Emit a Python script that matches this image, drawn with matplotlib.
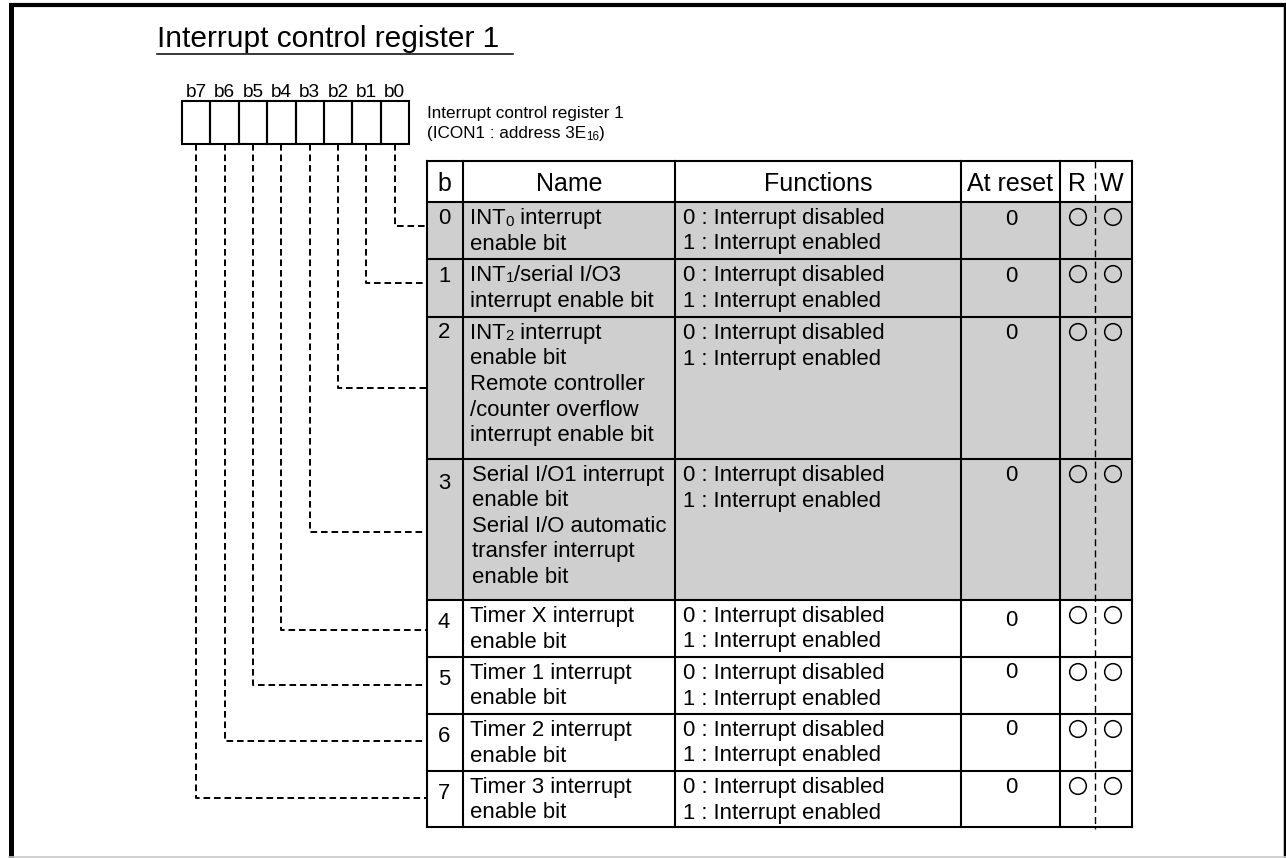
"""Register diagram: Interrupt control register 1 (ICON1)."""
import re

import matplotlib
matplotlib.use("Agg")
from matplotlib import pyplot as plt
from matplotlib.patches import Rectangle

plt.rcParams["font.family"] = ["Liberation Sans", "DejaVu Sans"]

TITLE = "Interrupt control register 1"
REG_NAME = "Interrupt control register 1"
REG_ADDR = "(ICON1 : address 3E_{16})"
BIT_LABELS = ["b7", "b6", "b5", "b4", "b3", "b2", "b1", "b0"]
HEADERS = ["b", "Name", "Functions", "At reset", "R", "W"]

bit_numbers = ["0", "1", "2", "3", "4", "5", "6", "7"]
bit_names = [
    ["INT_{0} interrupt", "enable bit"],
    ["INT_{1}/serial I/O3", "interrupt enable bit"],
    ["INT_{2} interrupt", "enable bit", "Remote controller",
     "/counter overflow", "interrupt enable bit"],
    ["Serial I/O1 interrupt", "enable bit", "Serial I/O automatic",
     "transfer interrupt", "enable bit"],
    ["Timer X interrupt", "enable bit"],
    ["Timer 1 interrupt", "enable bit"],
    ["Timer 2 interrupt", "enable bit"],
    ["Timer 3 interrupt", "enable bit"],
]
bit_functions = [["0 : Interrupt disabled", "1 : Interrupt enabled"]] * 8
reset_values = ["0"] * 8
readable = [True] * 8
writable = [True] * 8
shaded = [True, True, True, True, False, False, False, False]

# layout (pixel coordinates)
COL_X = [427, 463, 675, 961, 1060, 1132]
ROW_Y = [161, 202, 259, 317, 459, 600, 657, 714, 771, 827]
RW_SPLIT = 1095
BOX_LEFT, BOX_RIGHT, BOX_TOP, BOX_BOTTOM = 182, 409, 101, 144
LINK_Y = [226, 283, 388, 532, 630, 685, 741, 798]
NUM_OFFSET = [22, 23, 21, 30, 28, 28, 28, 28]
RESET_OFFSET = [23, 23, 22, 22, 26, 21, 21, 22]
LINE_STEP = 25.5

BODY = 15.9
HEAD = 18


def sub_text(ax, renderer, x, y, s, size):
    """Draw text where _{..} parts are small digits sitting on the baseline."""
    parts = re.split(r"_\{(.*?)\}", s)
    for k, part in enumerate(parts):
        if not part:
            continue
        small = k % 2 == 1
        t = ax.text(x, y + (1.5 if small else 0), part,
                    fontsize=size * (0.68 if small else 1.0), va="baseline")
        bb = t.get_window_extent(renderer=renderer)
        x += bb.width


def draw_frame(ax):
    ax.plot([11, 11], [3, 858], color="black", lw=3.6, solid_capstyle="butt")
    ax.plot([9, 1286], [5, 5], color="black", lw=3.0, solid_capstyle="butt")
    ax.plot([1284.5, 1284.5], [3, 858], color="black", lw=2.5,
            solid_capstyle="butt")
    ax.plot([9, 1286], [856.5, 856.5], color="#c8c8c8", lw=1.2)


def draw_register(ax, renderer):
    ax.text(157, 47, TITLE, fontsize=21.5, va="baseline", ha="left")
    ax.plot([157, 513], [54, 54], color="black", lw=1.1)
    width = (BOX_RIGHT - BOX_LEFT) / 8
    for i, label in enumerate(BIT_LABELS):
        x0 = BOX_LEFT + i * width
        ax.add_patch(Rectangle((x0, BOX_TOP), width, BOX_BOTTOM - BOX_TOP,
                               fill=False, lw=1.5, edgecolor="black"))
        ax.text(x0 + width / 2, 97, label, fontsize=13.7, ha="center",
                va="baseline")
    ax.text(427, 118, REG_NAME, fontsize=12.3, va="baseline")
    sub_text(ax, renderer, 427, 138, REG_ADDR, 12.3)

    dash = (0, (3.4, 2.0))
    for bit in range(8):
        x = BOX_RIGHT - (bit + 0.5) * width
        y = LINK_Y[bit]
        ax.plot([x, x, COL_X[0]], [BOX_BOTTOM, y, y], color="black",
                lw=1.4, linestyle=dash, dash_capstyle="butt")


def draw_table(ax, renderer):
    for i in range(8):
        top, bottom = ROW_Y[i + 1], ROW_Y[i + 2]
        if shaded[i]:
            ax.add_patch(Rectangle((COL_X[0], top), COL_X[-1] - COL_X[0],
                                   bottom - top, facecolor="#cfcfcf",
                                   edgecolor="none", zorder=0))
    for y in ROW_Y:
        ax.plot([COL_X[0], COL_X[-1]], [y, y], color="black", lw=1.5,
                solid_capstyle="projecting")
    for x in COL_X:
        ax.plot([x, x], [ROW_Y[0], ROW_Y[-1]], color="black", lw=1.5,
                solid_capstyle="projecting")
    ax.plot([RW_SPLIT, RW_SPLIT], [ROW_Y[0], ROW_Y[-1] + 2], color="black",
            lw=1.0, linestyle=(0, (5, 3)))

    head_x = [444, 569, 818, 1010, 1077, 1112]
    for x, h in zip(head_x, HEADERS):
        ax.text(x, 191, h, fontsize=HEAD, ha="center", va="baseline")

    r_x, w_x = 1078, 1113
    for i in range(8):
        top = ROW_Y[i + 1]
        ax.text(444, top + NUM_OFFSET[i], bit_numbers[i], fontsize=BODY,
                ha="center", va="baseline")
        name_x = 472 if i == 3 else 470
        for k, line in enumerate(bit_names[i]):
            sub_text(ax, renderer, name_x, top + 22 + k * LINE_STEP, line,
                     BODY)
        for k, line in enumerate(bit_functions[i]):
            ax.text(683, top + 22 + k * LINE_STEP, line, fontsize=BODY,
                    va="baseline")
        ax.text(1011, top + RESET_OFFSET[i], reset_values[i], fontsize=BODY,
                ha="center", va="baseline")
        cy = top + 15
        if readable[i]:
            ax.scatter([r_x], [cy], s=12.0 ** 2, facecolors="none",
                       edgecolors="black", linewidths=1.1, zorder=3)
        if writable[i]:
            ax.scatter([w_x], [cy], s=12.0 ** 2, facecolors="none",
                       edgecolors="black", linewidths=1.1, zorder=3)


fig = plt.figure(figsize=(12.86, 8.58), dpi=100)
ax = fig.add_axes([0, 0, 1, 1])
ax.set_xlim(0, 1286)
ax.set_ylim(858, 0)
ax.axis("off")
renderer = fig.canvas.get_renderer()

draw_frame(ax)
draw_register(ax, renderer)
draw_table(ax, renderer)

fig.savefig("out.png", dpi=100, facecolor="white")
